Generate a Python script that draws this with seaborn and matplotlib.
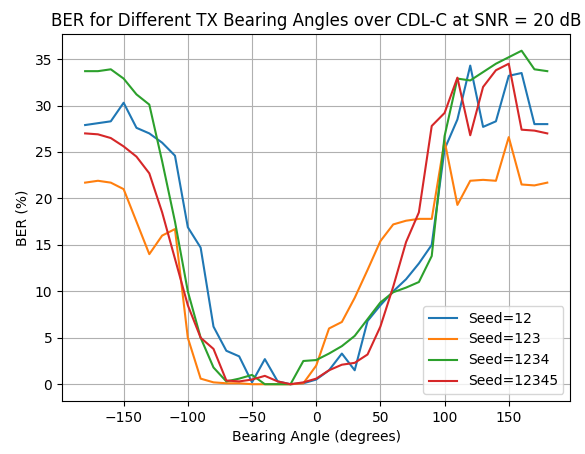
import seaborn as sns
import matplotlib.pyplot as plt
import numpy as np
import pandas as pd

angles = np.arange(-180, 181, 10)
ber_12 = [27.9, 28.1, 28.3, 30.3, 27.6, 27.0, 26.0, 24.6, 16.9, 14.7, 6.2, 3.6, 3.0, 0.2, 2.7, 0.3, 0.0, 0.1,
          0.5, 1.5, 3.3, 1.5, 6.8, 8.5, 10.0, 11.3, 13.0, 15.0, 25.3, 28.5, 34.3, 27.7, 28.3, 33.2, 33.5, 28.0, 28.0]
ber_123 = [21.7, 21.9, 21.7, 21.0, 17.5, 14.0, 16.0, 16.7, 5.0, 0.6, 0.2, 0.1, 0.1, 0.0, 0.0, 0.0, 0.0, 0.1,
           2.0, 6.0, 6.7, 9.3, 12.3, 15.4, 17.2, 17.6, 17.8, 17.8, 26.2, 19.3, 21.9, 22.0, 21.9, 26.6, 21.5, 21.4, 21.7]
ber_1234 = [33.7, 33.7, 33.9, 32.9, 31.2, 30.1, 24.0, 17.5, 10.0, 5.0, 1.8, 0.3, 0.6, 1.0, 0.0, 0.0, 0.0, 2.5,
            2.6, 3.3, 4.1, 5.2, 7.0, 8.8, 9.9, 10.4, 11.0, 13.8, 26.7, 32.9, 32.7, 33.6, 34.5, 35.2, 35.9, 33.9, 33.7]
ber_12345 = [27.0, 26.9, 26.5, 25.6, 24.5, 22.7, 18.5, 13.5, 8.5, 5.0, 3.8, 0.4, 0.3, 0.5, 0.9, 0.3, 0.0, 0.2,
             0.6, 1.5, 2.1, 2.3, 3.2, 6.2, 10.5, 15.3, 18.5, 27.8, 29.2, 33.0, 26.8, 32.0, 33.8, 34.5, 27.4, 27.3, 27.0]
seeds = ["Seed=12", "Seed=123", "Seed=1234", "Seed=12345"]

df = pd.DataFrame({"angle": np.tile(angles, 4),
                   "ber": ber_12 + ber_123 + ber_1234 + ber_12345,
                   "seed": np.repeat(seeds, len(angles))})

# plain matplotlib look, no seaborn theme
fig, ax = plt.subplots(figsize=(5.85, 4.54), dpi=100)
sns.lineplot(data=df, x="angle", y="ber", hue="seed", palette="tab10", linewidth=1.5, ax=ax)
ax.grid(True, color="#b0b0b0", linewidth=0.8)
ax.set_xlabel("Bearing Angle (degrees)")
ax.set_ylabel("BER (%)")
ax.set_title("BER for Different TX Bearing Angles over CDL-C at SNR = 20 dB")
ax.legend(loc="lower right")
fig.subplots_adjust(left=0.106, right=0.975, bottom=0.117, top=0.925)
plt.savefig("out.png")
